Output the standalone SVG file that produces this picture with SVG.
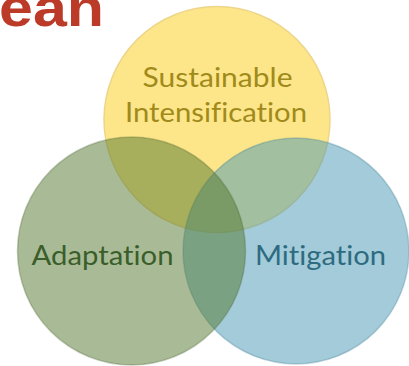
<svg xmlns="http://www.w3.org/2000/svg" width="409" height="366" viewBox="0 0 409 366">
<style>
.lbl{font-family:Lato,"Open Sans",sans-serif;font-size:27px;font-variant-ligatures:none;}
.title{font-family:"Liberation Sans",Arial,sans-serif;font-weight:bold;font-size:53px;fill:#BC3A28;}
</style>
<rect width="409" height="366" fill="#ffffff"/>
<text class="title" x="-1" y="26" textLength="105" lengthAdjust="spacingAndGlyphs">ean</text>
<g id="sustainable-intensification">
<circle cx="217" cy="119.5" r="113" fill="#FDE68A" stroke="#EDD68A" stroke-width="1.5"/>
</g>
<g id="mitigation">
<circle cx="296" cy="251" r="113" fill="#4797B3" fill-opacity="0.5" stroke="#3E7F96" stroke-opacity="0.3" stroke-width="1.5"/>
</g>
<g id="adaptation">
<circle cx="131.5" cy="251" r="114" fill="#53772D" fill-opacity="0.5" stroke="#44602A" stroke-opacity="0.3" stroke-width="1.5"/>
</g>
<g id="labels">
<text class="lbl" x="217.5" y="87" text-anchor="middle" fill="#A08A1A" textLength="150" lengthAdjust="spacingAndGlyphs">Sustainable</text>
<text class="lbl" x="216" y="122.3" text-anchor="middle" fill="#A08A1A" textLength="182" lengthAdjust="spacingAndGlyphs">Intensification</text>
<text class="lbl" x="31.5" y="265" fill="#3A5E2A" textLength="142" lengthAdjust="spacingAndGlyphs">Adaptation</text>
<text class="lbl" x="255" y="265" fill="#2E6B80" textLength="131" lengthAdjust="spacingAndGlyphs">Mitigation</text>
</g>
<g id="connectors"/>
</svg>
